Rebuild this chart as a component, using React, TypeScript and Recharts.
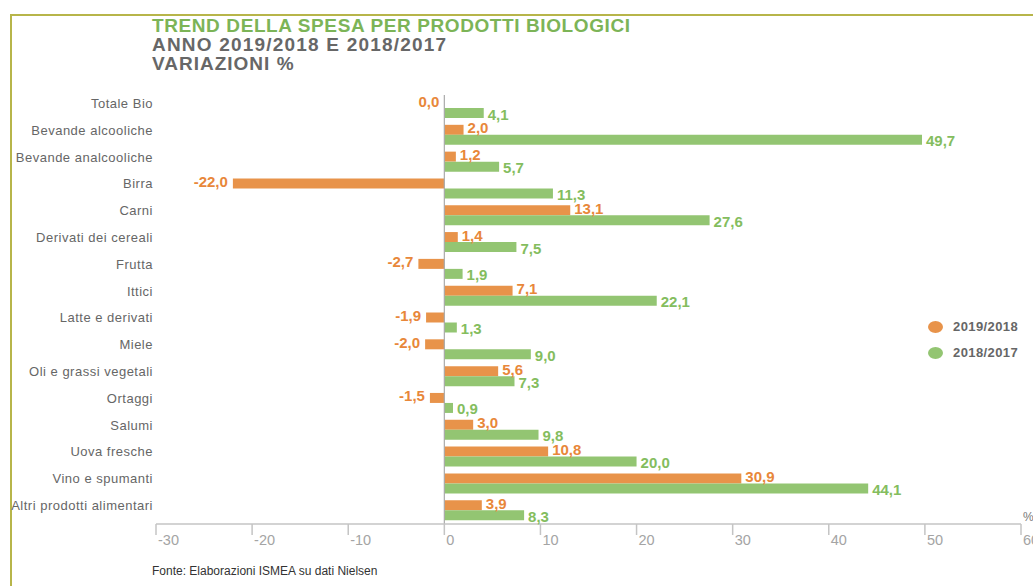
import React from "react";
import {
  BarChart, Bar, XAxis, YAxis, ReferenceLine, LabelList,
} from "recharts";

const categories = [
  "Totale Bio",
  "Bevande alcooliche",
  "Bevande analcooliche",
  "Birra",
  "Carni",
  "Derivati dei cereali",
  "Frutta",
  "Ittici",
  "Latte e derivati",
  "Miele",
  "Oli e grassi vegetali",
  "Ortaggi",
  "Salumi",
  "Uova fresche",
  "Vino e spumanti",
  "Altri prodotti alimentari",
];

const var2019 = [0.0, 2.0, 1.2, -22.0, 13.1, 1.4, -2.7, 7.1, -1.9, -2.0, 5.6, -1.5, 3.0, 10.8, 30.9, 3.9];
const var2018 = [4.1, 49.7, 5.7, 11.3, 27.6, 7.5, 1.9, 22.1, 1.3, 9.0, 7.3, 0.9, 9.8, 20.0, 44.1, 8.3];

const seriesNames = ["2019/2018", "2018/2017"];
const xTicks = [-30, -20, -10, 0, 10, 20, 30, 40, 50, 60];

const ORANGE = "#e8934a";
const GREEN = "#93c572";
const ORANGE_TXT = "#e8873a";
const GREEN_TXT = "#84bd5e";
const FONT = "'Liberation Sans', Arial, sans-serif";

const data = categories.map((name, i) => ({ name, a: var2019[i], b: var2018[i] }));

const fmt = (v: number) => v.toFixed(1).replace(".", ",");

function valueLabel(color: string, dyShift: number, gap: number) {
  return (props: any) => {
    const { x, y, width, height, value } = props;
    const left = Math.min(x, x + width);
    const right = Math.max(x, x + width);
    const pos = value > 0;
    return (
      <text
        x={pos ? right + 4 : left - gap}
        y={y + height / 2 + dyShift}
        textAnchor={pos ? "start" : "end"}
        dominantBaseline="central"
        fill={color}
        fontFamily={FONT}
        fontWeight="bold"
        fontSize={15}
      >
        {fmt(value)}
      </text>
    );
  };
}

const CatTick = (props: any) => {
  const { x, y, payload } = props;
  return (
    <text x={x} y={y - 5} textAnchor="end" dominantBaseline="central"
      fill="#666" fontFamily={FONT} fontSize={13} letterSpacing={0.5}>
      {payload.value}
    </text>
  );
};

const NumTick = (props: any) => {
  const { x, y, payload } = props;
  return (
    <text x={x + 2} y={y + 5} textAnchor="start" dominantBaseline="central"
      fill="#a4a4a4" fontFamily={FONT} fontSize={14.5}>
      {payload.value}
    </text>
  );
};

export default function App() {
  return (
    <div style={{ position: "absolute", left: 0, top: 0, width: 1033, height: 586, background: "#fff", overflow: "hidden", fontFamily: FONT }}>
      {/* frame */}
      <div style={{ position: "absolute", left: 10, top: 14, width: 1030, height: 580, borderTop: "2px solid #b7b54a", borderLeft: "2px solid #b7b54a" }} />

      <div style={{ position: "absolute", left: 152, top: 16, fontWeight: "bold", fontSize: 19, lineHeight: "19px", letterSpacing: 0.6 }}>
        <div style={{ color: "#7cb457" }}>TREND DELLA SPESA PER PRODOTTI BIOLOGICI</div>
        <div style={{ color: "#676767", letterSpacing: 1.2 }}>ANNO 2019/2018 E 2018/2017</div>
        <div style={{ color: "#676767", letterSpacing: 1 }}>VARIAZIONI %</div>
      </div>

      <BarChart
        width={1033}
        height={586}
        data={data}
        layout="vertical"
        margin={{ top: 95, right: 12, bottom: 32, left: 0 }}
        barSize={10}
        barGap={0}
        style={{ position: "absolute", left: 0, top: 0 }}
      >
        <XAxis
          type="number"
          domain={[-30, 60]}
          ticks={xTicks}
          allowDataOverflow
          stroke="#c4c4c4"
          strokeWidth={1.5}
          tickSize={11}
          tickMargin={0}
          tick={<NumTick />}
          height={30}
        />
        <YAxis
          type="category"
          dataKey="name"
          width={156}
          axisLine={false}
          tickLine={false}
          tickSize={0}
          tickMargin={3}
          interval={0}
          tick={<CatTick />}
        />
        <ReferenceLine x={0} stroke="#a9a9a9" strokeWidth={1.2} />
        <Bar dataKey="a" name={seriesNames[0]} fill={ORANGE} minPointSize={0.01} isAnimationActive={false}>
          <LabelList dataKey="a" content={valueLabel(ORANGE_TXT, -2, 5)} />
        </Bar>
        <Bar dataKey="b" name={seriesNames[1]} fill={GREEN} isAnimationActive={false}>
          <LabelList dataKey="b" content={valueLabel(GREEN_TXT, 1, 4)} />
        </Bar>
      </BarChart>

      <div style={{ position: "absolute", left: 1023, top: 510, color: "#777", fontSize: 12 }}>%</div>

      {/* legend */}
      {seriesNames.map((s, i) => (
        <div key={s} style={{ position: "absolute", left: 928, top: 319 + i * 26, display: "flex", alignItems: "center" }}>
          <div style={{ width: 15, height: 12, borderRadius: "50%", background: i === 0 ? ORANGE : GREEN }} />
          <div style={{ marginLeft: 10, color: "#666", fontWeight: "bold", fontSize: 13, letterSpacing: 0.4 }}>{s}</div>
        </div>
      ))}

      <div style={{ position: "absolute", left: 152, top: 564, color: "#333", fontSize: 12 }}>
        Fonte: Elaborazioni ISMEA su dati Nielsen
      </div>
    </div>
  );
}
